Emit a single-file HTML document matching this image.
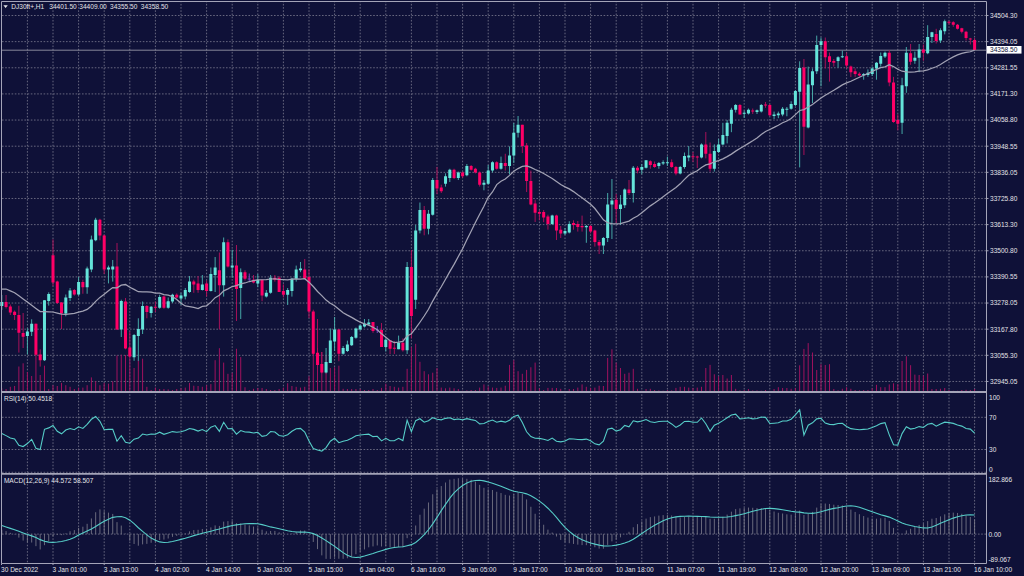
<!DOCTYPE html><html><head><meta charset="utf-8"><style>
html,body{margin:0;padding:0;background:#0f1138;width:1024px;height:576px;overflow:hidden}
svg{position:absolute;left:0;top:0}
text{font-family:"Liberation Sans",sans-serif;fill:#e4e4e8;font-size:7px}
</style></head><body>
<svg width="1024" height="576" viewBox="0 0 1024 576">
<rect x="0" y="0" width="1024" height="576" fill="#0f1138"/>
<path d="M27.40 1.5V563.5M53.00 1.5V563.5M78.60 1.5V563.5M104.20 1.5V563.5M129.80 1.5V563.5M155.40 1.5V563.5M181.00 1.5V563.5M206.60 1.5V563.5M232.20 1.5V563.5M257.80 1.5V563.5M283.40 1.5V563.5M309.00 1.5V563.5M334.60 1.5V563.5M360.20 1.5V563.5M385.80 1.5V563.5M411.40 1.5V563.5M437.00 1.5V563.5M462.60 1.5V563.5M488.20 1.5V563.5M513.80 1.5V563.5M539.40 1.5V563.5M565.00 1.5V563.5M590.60 1.5V563.5M616.20 1.5V563.5M641.80 1.5V563.5M667.40 1.5V563.5M693.00 1.5V563.5M718.60 1.5V563.5M744.20 1.5V563.5M769.80 1.5V563.5M795.40 1.5V563.5M821.00 1.5V563.5M846.60 1.5V563.5M872.20 1.5V563.5M897.80 1.5V563.5M923.40 1.5V563.5M949.00 1.5V563.5M974.60 1.5V563.5" stroke="#66667e" stroke-width="1" stroke-dasharray="1.6 1.6" stroke-dashoffset="0.8" fill="none"/>
<path d="M1.5 15.50H986.50M1.5 41.64H986.50M1.5 67.78H986.50M1.5 93.92H986.50M1.5 120.06H986.50M1.5 146.20H986.50M1.5 172.34H986.50M1.5 198.48H986.50M1.5 224.62H986.50M1.5 250.76H986.50M1.5 276.90H986.50M1.5 303.04H986.50M1.5 329.18H986.50M1.5 355.32H986.50M1.5 381.46H986.50M1.5 417.30H986.50M1.5 449.50H986.50M1.5 534.10H986.50M1.5 472.30H986.50" stroke="#66667e" stroke-width="1" stroke-dasharray="1.6 1.6" stroke-dashoffset="2.7" fill="none"/>
<path d="M1.80 391.5V388.30M6.07 391.5V389.00M10.33 391.5V386.80M14.60 391.5V386.00M18.87 391.5V366.50M23.13 391.5V363.30M27.40 391.5V372.00M31.67 391.5V376.00M35.93 391.5V356.00M40.20 391.5V375.00M44.47 391.5V365.70M48.73 391.5V389.00M53.00 391.5V385.20M57.27 391.5V386.00M61.53 391.5V382.90M65.80 391.5V385.20M70.07 391.5V386.80M74.33 391.5V389.00M78.60 391.5V387.60M82.87 391.5V387.60M87.13 391.5V385.20M91.40 391.5V377.40M95.67 391.5V381.30M99.93 391.5V385.20M104.20 391.5V382.90M108.47 391.5V383.70M112.73 391.5V381.30M117.00 391.5V355.50M121.27 391.5V354.75M125.53 391.5V355.00M129.80 391.5V356.00M134.07 391.5V368.00M138.33 391.5V360.20M142.60 391.5V358.70M146.87 391.5V386.80M151.13 391.5V390.00M155.40 391.5V387.60M159.67 391.5V389.00M163.93 391.5V389.00M168.20 391.5V389.40M172.47 391.5V390.00M176.73 391.5V389.00M181.00 391.5V388.30M185.27 391.5V387.60M189.53 391.5V382.90M193.80 391.5V385.70M198.07 391.5V386.00M202.33 391.5V386.80M206.60 391.5V385.20M210.87 391.5V384.10M215.13 391.5V360.20M219.40 391.5V348.20M223.67 391.5V362.60M227.93 391.5V373.80M232.20 391.5V372.70M236.47 391.5V348.80M240.73 391.5V357.10M245.00 391.5V387.25M249.27 391.5V390.00M253.53 391.5V388.80M257.80 391.5V388.00M262.07 391.5V388.00M266.33 391.5V389.00M270.60 391.5V390.00M274.87 391.5V390.00M279.13 391.5V389.00M283.40 391.5V387.60M287.67 391.5V383.20M291.93 391.5V386.00M296.20 391.5V386.80M300.47 391.5V387.60M304.73 391.5V386.80M309.00 391.5V376.30M313.27 391.5V345.00M317.53 391.5V348.00M321.80 391.5V352.00M326.07 391.5V355.00M330.33 391.5V368.00M334.60 391.5V367.25M338.87 391.5V365.70M343.13 391.5V388.80M347.40 391.5V389.00M351.67 391.5V389.00M355.93 391.5V389.00M360.20 391.5V389.00M364.47 391.5V390.00M368.73 391.5V390.00M373.00 391.5V389.00M377.27 391.5V390.00M381.53 391.5V387.90M385.80 391.5V383.70M390.07 391.5V386.00M394.33 391.5V386.80M398.60 391.5V387.60M402.87 391.5V386.80M407.13 391.5V368.80M411.40 391.5V347.00M415.67 391.5V343.80M419.93 391.5V361.80M424.20 391.5V371.20M428.47 391.5V374.30M432.73 391.5V372.70M437.00 391.5V368.00M441.27 391.5V387.60M445.53 391.5V388.30M449.80 391.5V387.60M454.07 391.5V388.30M458.33 391.5V389.00M462.60 391.5V390.70M466.87 391.5V390.40M471.13 391.5V390.00M475.40 391.5V390.00M479.67 391.5V387.60M483.93 391.5V384.40M488.20 391.5V386.30M492.47 391.5V387.60M496.73 391.5V387.90M501.00 391.5V387.60M505.27 391.5V385.70M509.53 391.5V364.90M513.80 391.5V360.20M518.07 391.5V371.20M522.33 391.5V373.80M526.60 391.5V369.90M530.87 391.5V367.25M535.13 391.5V362.60M539.40 391.5V388.30M543.67 391.5V390.00M547.93 391.5V387.90M552.20 391.5V387.90M556.47 391.5V388.00M560.73 391.5V388.80M565.00 391.5V390.70M569.27 391.5V389.00M573.53 391.5V389.00M577.80 391.5V387.60M582.07 391.5V384.40M586.33 391.5V386.80M590.60 391.5V387.90M594.87 391.5V387.60M599.13 391.5V385.70M603.40 391.5V386.00M607.67 391.5V357.90M611.93 391.5V349.30M616.20 391.5V362.60M620.47 391.5V368.00M624.73 391.5V373.80M629.00 391.5V372.70M633.27 391.5V368.80M637.53 391.5V388.80M641.80 391.5V390.70M646.07 391.5V389.00M650.33 391.5V388.80M654.60 391.5V390.00M658.87 391.5V390.40M663.13 391.5V390.70M667.40 391.5V390.00M671.67 391.5V390.40M675.93 391.5V387.90M680.20 391.5V386.80M684.47 391.5V386.80M688.73 391.5V387.60M693.00 391.5V388.00M697.27 391.5V387.60M701.53 391.5V386.80M705.80 391.5V368.00M710.07 391.5V364.90M714.33 391.5V374.30M718.60 391.5V376.30M722.87 391.5V375.00M727.13 391.5V378.50M731.40 391.5V375.00M735.67 391.5V388.80M739.93 391.5V390.40M744.20 391.5V390.00M748.47 391.5V389.00M752.73 391.5V390.40M757.00 391.5V390.40M761.27 391.5V390.70M765.53 391.5V390.00M769.80 391.5V390.70M774.07 391.5V389.00M778.33 391.5V387.20M782.60 391.5V388.00M786.87 391.5V388.00M791.13 391.5V388.75M795.40 391.5V388.00M799.67 391.5V365.30M803.93 391.5V348.90M808.20 391.5V343.10M812.47 391.5V352.50M816.73 391.5V370.00M821.00 391.5V364.20M825.27 391.5V365.00M829.53 391.5V364.20M833.80 391.5V389.00M838.07 391.5V390.30M842.33 391.5V388.75M846.60 391.5V387.20M850.87 391.5V388.75M855.13 391.5V390.00M859.40 391.5V390.30M863.67 391.5V390.00M867.93 391.5V390.00M872.20 391.5V388.40M876.47 391.5V384.80M880.73 391.5V387.20M885.00 391.5V387.20M889.27 391.5V384.40M893.53 391.5V383.30M897.80 391.5V384.00M902.07 391.5V361.00M906.33 391.5V356.25M910.60 391.5V365.20M914.87 391.5V374.60M919.13 391.5V375.00M923.40 391.5V375.60M927.67 391.5V373.50M931.93 391.5V389.00M936.20 391.5V389.00M940.47 391.5V388.75M944.73 391.5V388.00M949.00 391.5V390.00M953.27 391.5V390.80M957.53 391.5V390.80M961.80 391.5V390.00M966.07 391.5V389.80M970.33 391.5V390.00M974.60 391.5V389.00" stroke="#a0125e" stroke-width="1" fill="none"/>
<path d="M1.5 50.2H986.5" stroke="#9c9cac" stroke-width="0.85"/>
<path d="M1.80 295.00V310.00M27.40 328.30V354.50M31.67 319.30V336.00M44.47 300.00V361.00M48.73 292.30V305.60M65.80 294.50V316.30M70.07 288.00V301.00M78.60 277.00V295.60M87.13 266.60V293.75M91.40 235.60V272.20M95.67 217.80V241.25M108.47 265.60V283.40M112.73 260.00V281.60M121.27 299.70V337.00M134.07 334.00V360.80M138.33 318.30V360.80M142.60 301.50V334.00M151.13 306.00V317.50M159.67 294.70V308.75M168.20 297.50V308.75M172.47 293.75V303.00M181.00 292.80V305.00M185.27 288.00V299.40M189.53 276.00V292.80M202.33 275.00V290.50M210.87 267.50V291.50M215.13 257.00V292.00M223.67 237.50V296.60M232.20 249.70V277.80M240.73 268.40V319.00M257.80 274.00V287.20M266.33 290.00V297.50M270.60 275.00V293.75M287.67 288.00V305.00M291.93 277.80V296.60M296.20 265.60V281.60M300.47 262.00V272.20M326.07 348.00V373.40M330.33 328.40V363.00M334.60 317.00V351.00M343.13 346.00V354.70M347.40 340.60V352.00M351.67 336.00V346.00M355.93 327.50V338.75M360.20 324.70V330.50M364.47 319.00V327.50M368.73 319.00V325.60M385.80 338.40V351.60M398.60 335.60V349.20M407.13 262.00V354.00M415.67 225.00V309.00M419.93 202.50V233.40M428.47 210.00V234.40M432.73 178.00V215.60M445.53 173.40V186.60M449.80 168.75V182.00M458.33 171.60V180.00M466.87 164.00V176.25M483.93 180.00V190.30M488.20 165.00V184.70M492.47 161.25V172.50M501.00 156.60V169.70M509.53 146.40V174.40M513.80 123.00V163.00M518.07 116.00V137.50M552.20 214.70V225.00M565.00 228.00V235.00M569.27 221.25V233.40M586.33 225.00V242.80M603.40 237.00V254.00M607.67 193.00V242.00M611.93 179.00V239.00M620.47 195.00V225.00M624.73 188.40V208.00M633.27 166.00V202.50M641.80 164.00V174.40M646.07 160.30V168.50M658.87 162.00V168.75M663.13 160.30V165.00M667.40 156.60V166.00M680.20 166.00V174.40M684.47 152.50V168.75M688.73 146.00V161.25M701.53 143.40V158.40M714.33 144.40V171.60M718.60 138.75V153.00M722.87 122.80V145.30M727.13 120.00V143.40M731.40 107.80V132.20M735.67 104.00V112.50M744.20 110.60V118.00M748.47 108.50V114.50M757.00 109.50V114.00M761.27 104.00V112.50M774.07 111.60V119.00M778.33 111.60V118.20M782.60 107.00V116.25M786.87 107.00V116.25M791.13 101.25V109.70M795.40 90.00V106.00M799.67 61.30V167.40M808.20 66.60V128.40M812.47 68.40V103.00M816.73 35.60V74.00M821.00 37.50V86.25M838.07 56.25V67.50M842.33 50.60V58.00M863.67 73.00V79.70M867.93 69.40V76.90M872.20 66.60V76.00M876.47 62.00V79.70M880.73 52.50V66.60M885.00 51.60V58.00M902.07 77.80V134.00M906.33 47.00V92.80M914.87 51.60V63.80M919.13 44.00V72.20M927.67 25.20V54.20M931.93 31.80V43.00M940.47 28.30V43.00M944.73 19.60V34.40" stroke="#4cb8b2" stroke-width="0.9" fill="none"/>
<path d="M6.07 295.00V308.50M10.33 304.50V315.00M14.60 310.50V320.00M18.87 305.70V352.60M23.13 313.00V348.00M35.93 323.60V356.00M40.20 349.40V366.60M53.00 239.40V286.00M57.27 280.60V304.00M61.53 302.00V329.00M74.33 289.00V295.60M82.87 279.70V293.75M99.93 218.75V240.30M104.20 234.70V274.00M117.00 243.00V330.00M125.53 298.00V349.30M129.80 331.60V357.30M146.87 305.00V318.30M155.40 301.50V312.00M163.93 295.60V308.75M176.73 293.40V298.40M193.80 279.70V292.80M198.07 276.00V292.80M206.60 280.60V296.60M219.40 252.50V329.40M227.93 239.40V267.50M236.47 245.00V321.00M245.00 270.30V280.60M253.53 275.00V283.40M262.07 279.70V301.25M274.87 275.00V281.60M279.13 276.00V291.90M283.40 284.40V297.50M304.73 259.00V278.75M309.00 269.40V318.00M313.27 309.70V354.70M317.53 319.00V365.00M321.80 352.00V373.40M338.87 329.40V361.25M373.00 322.00V332.80M381.53 323.00V347.00M390.07 340.30V354.00M394.33 341.00V354.00M402.87 338.40V351.60M411.40 250.00V338.40M424.20 206.00V235.30M437.00 166.90V194.00M441.27 184.70V193.00M454.07 168.75V179.00M462.60 171.60V178.00M471.13 165.00V170.60M475.40 167.80V173.40M479.67 171.60V186.60M496.73 161.25V169.70M505.27 153.75V170.60M522.33 124.80V153.00M526.60 143.00V192.00M530.87 170.60V205.30M535.13 199.70V222.00M539.40 210.00V220.30M543.67 210.00V222.20M547.93 214.70V229.70M556.47 214.70V240.00M560.73 226.00V238.00M573.53 220.30V229.70M577.80 221.00V231.60M582.07 215.60V231.60M590.60 225.00V233.40M594.87 229.70V246.60M599.13 240.00V254.00M616.20 194.00V223.00M629.00 180.00V195.00M637.53 166.00V173.40M650.33 160.30V168.75M654.60 161.50V167.80M671.67 159.40V167.80M675.93 166.00V175.30M693.00 152.00V162.00M697.27 155.60V168.00M705.80 132.00V158.40M710.07 142.50V171.60M739.93 104.00V114.40M752.73 108.50V114.00M765.53 102.00V107.80M769.80 104.00V116.25M803.93 59.00V155.00M825.27 37.50V68.40M829.53 52.50V81.60M833.80 59.00V66.60M846.60 52.50V68.40M850.87 65.60V77.00M855.13 68.40V76.90M859.40 72.20V76.50M889.27 50.00V86.25M893.53 76.90V122.80M897.80 114.40V130.30M910.60 44.00V64.80M923.40 44.50V60.80M936.20 28.80V43.50M949.00 20.70V24.70M953.27 21.20V26.80M957.53 24.00V29.50M961.80 27.80V33.40M966.07 30.80V40.50M970.33 37.90V44.50M974.60 37.90V50.10" stroke="#b8115c" stroke-width="0.9" fill="none"/>
<path d="M0.30 302.00h3v4.00h-3zM25.90 331.60h3v4.40h-3zM30.17 323.80h3v8.00h-3zM42.97 300.30h3v60.00h-3zM47.23 294.00h3v7.00h-3zM64.30 297.50h3v15.90h-3zM68.57 290.50h3v7.50h-3zM77.10 282.00h3v12.50h-3zM85.63 268.40h3v18.80h-3zM89.90 239.40h3v30.00h-3zM94.17 219.70h3v20.60h-3zM106.97 267.50h3v1.90h-3zM111.23 266.60h3v2.80h-3zM119.77 301.00h3v28.60h-3zM132.57 335.00h3v22.30h-3zM136.83 329.00h3v7.00h-3zM141.10 306.00h3v23.60h-3zM149.63 306.80h3v6.20h-3zM158.17 297.00h3v10.70h-3zM166.70 301.25h3v6.55h-3zM170.97 294.70h3v6.90h-3zM179.50 295.60h3v2.80h-3zM183.77 290.00h3v6.60h-3zM188.03 281.60h3v10.40h-3zM200.83 284.40h3v5.60h-3zM209.37 274.00h3v17.00h-3zM213.63 267.50h3v7.50h-3zM222.17 242.20h3v43.10h-3zM230.70 265.60h3v1.90h-3zM239.23 272.20h3v15.80h-3zM256.30 279.70h3v3.70h-3zM264.83 292.80h3v3.80h-3zM269.10 277.80h3v15.00h-3zM286.17 290.00h3v4.70h-3zM290.43 278.75h3v12.25h-3zM294.70 269.40h3v9.35h-3zM298.97 268.40h3v1.90h-3zM324.57 362.00h3v10.50h-3zM328.83 340.60h3v22.40h-3zM333.10 329.40h3v12.20h-3zM341.63 348.00h3v5.75h-3zM345.90 344.40h3v6.60h-3zM350.17 337.00h3v8.30h-3zM354.43 328.40h3v9.40h-3zM358.70 325.60h3v3.80h-3zM362.97 323.75h3v2.85h-3zM367.23 322.50h3v2.00h-3zM384.30 339.80h3v7.10h-3zM397.10 342.70h3v6.50h-3zM405.63 266.90h3v83.30h-3zM414.17 230.60h3v69.10h-3zM418.43 210.00h3v20.60h-3zM426.97 213.75h3v15.00h-3zM431.23 180.00h3v34.70h-3zM444.03 176.25h3v7.50h-3zM448.30 169.70h3v8.30h-3zM456.83 172.50h3v5.50h-3zM465.37 166.00h3v9.30h-3zM482.43 182.80h3v1.90h-3zM486.70 170.60h3v13.15h-3zM490.97 162.20h3v8.40h-3zM499.50 163.00h3v5.75h-3zM508.03 155.60h3v10.40h-3zM512.30 132.80h3v22.80h-3zM516.57 124.80h3v8.00h-3zM550.70 215.60h3v8.40h-3zM563.50 231.00h3v2.40h-3zM567.77 224.00h3v8.50h-3zM584.83 226.00h3v1.25h-3zM601.90 238.00h3v7.60h-3zM606.17 204.40h3v33.60h-3zM610.43 200.60h3v3.80h-3zM618.97 204.40h3v4.60h-3zM623.23 189.40h3v15.90h-3zM631.77 167.80h3v25.20h-3zM640.30 166.90h3v2.80h-3zM644.57 160.30h3v7.50h-3zM657.37 163.00h3v3.00h-3zM661.63 162.20h3v1.30h-3zM665.90 162.20h3v1.00h-3zM678.70 166.90h3v6.50h-3zM682.97 156.00h3v10.90h-3zM687.23 155.60h3v1.90h-3zM700.03 144.40h3v13.10h-3zM712.83 151.00h3v17.75h-3zM717.10 144.40h3v7.60h-3zM721.37 135.00h3v9.40h-3zM725.63 122.80h3v13.20h-3zM729.90 109.70h3v14.05h-3zM734.17 105.00h3v4.70h-3zM742.70 112.80h3v1.00h-3zM746.97 109.70h3v3.70h-3zM755.50 110.25h3v1.75h-3zM759.77 105.00h3v6.60h-3zM772.57 114.40h3v1.60h-3zM776.83 113.40h3v1.90h-3zM781.10 108.75h3v5.65h-3zM785.37 108.75h3v1.00h-3zM789.63 104.00h3v4.75h-3zM793.90 91.00h3v14.00h-3zM798.17 68.00h3v23.80h-3zM806.70 84.40h3v43.10h-3zM810.97 71.25h3v14.05h-3zM815.23 45.00h3v26.25h-3zM819.50 41.25h3v3.75h-3zM836.57 57.20h3v3.80h-3zM840.83 56.25h3v1.00h-3zM862.17 74.00h3v1.00h-3zM866.43 72.75h3v2.25h-3zM870.70 68.40h3v5.60h-3zM874.97 62.80h3v5.60h-3zM879.23 56.00h3v7.80h-3zM883.50 52.70h3v3.80h-3zM900.57 85.30h3v37.50h-3zM904.83 52.70h3v33.55h-3zM913.37 57.70h3v3.10h-3zM917.63 49.60h3v8.10h-3zM926.17 36.90h3v16.30h-3zM930.43 32.30h3v4.60h-3zM938.97 30.30h3v10.20h-3zM943.23 21.20h3v10.10h-3z" fill="#64e4da"/>
<path d="M4.57 302.00h3v5.00h-3zM8.83 306.50h3v6.00h-3zM13.10 311.70h3v3.30h-3zM17.37 315.00h3v17.80h-3zM21.63 333.00h3v3.80h-3zM34.43 323.80h3v31.00h-3zM38.70 354.50h3v5.80h-3zM51.50 255.30h3v27.20h-3zM55.77 281.60h3v21.40h-3zM60.03 302.50h3v10.90h-3zM72.83 290.00h3v4.50h-3zM81.37 282.00h3v5.20h-3zM98.43 219.70h3v15.90h-3zM102.70 235.60h3v33.80h-3zM115.50 266.60h3v62.80h-3zM124.03 301.50h3v46.90h-3zM128.30 347.60h3v8.80h-3zM145.37 306.00h3v6.00h-3zM153.90 306.80h3v1.00h-3zM162.43 296.60h3v11.20h-3zM175.23 294.70h3v2.80h-3zM192.30 281.60h3v2.80h-3zM196.57 283.40h3v6.60h-3zM205.10 283.40h3v7.60h-3zM217.90 270.30h3v15.00h-3zM226.43 242.20h3v24.40h-3zM234.97 265.60h3v23.40h-3zM243.50 272.20h3v6.55h-3zM252.03 279.70h3v2.80h-3zM260.57 279.70h3v15.90h-3zM273.37 277.80h3v1.90h-3zM277.63 277.80h3v14.10h-3zM281.90 291.00h3v3.70h-3zM303.23 269.40h3v9.35h-3zM307.50 276.90h3v34.70h-3zM311.77 311.60h3v42.15h-3zM316.03 352.80h3v12.20h-3zM320.30 364.00h3v8.50h-3zM337.37 329.40h3v24.35h-3zM371.50 322.00h3v9.00h-3zM380.03 330.00h3v16.90h-3zM388.57 340.30h3v8.45h-3zM392.83 347.80h3v1.00h-3zM401.37 342.70h3v7.50h-3zM409.90 266.90h3v49.10h-3zM422.70 210.00h3v18.75h-3zM435.50 180.00h3v8.40h-3zM439.77 187.50h3v3.75h-3zM452.57 169.70h3v8.30h-3zM461.10 172.50h3v3.75h-3zM469.63 166.00h3v3.70h-3zM473.90 168.75h3v3.75h-3zM478.17 172.50h3v12.20h-3zM495.23 162.20h3v6.55h-3zM503.77 163.00h3v3.00h-3zM520.83 124.80h3v21.20h-3zM525.10 145.50h3v35.50h-3zM529.37 181.00h3v23.40h-3zM533.63 203.40h3v9.40h-3zM537.90 211.90h3v1.85h-3zM542.17 211.90h3v5.60h-3zM546.43 216.60h3v7.40h-3zM554.97 215.60h3v15.00h-3zM559.23 229.70h3v3.70h-3zM572.03 223.00h3v2.00h-3zM576.30 224.00h3v2.90h-3zM580.57 226.00h3v1.25h-3zM589.10 226.00h3v5.60h-3zM593.37 230.60h3v11.30h-3zM597.63 241.90h3v3.70h-3zM614.70 199.70h3v9.30h-3zM627.50 189.40h3v3.60h-3zM636.03 167.80h3v2.80h-3zM648.83 161.25h3v3.75h-3zM653.10 164.00h3v2.90h-3zM670.17 162.20h3v4.70h-3zM674.43 166.90h3v6.50h-3zM691.50 156.20h3v1.00h-3zM695.77 156.40h3v1.00h-3zM704.30 144.40h3v9.35h-3zM708.57 153.75h3v15.00h-3zM738.43 105.00h3v9.40h-3zM751.23 110.60h3v1.00h-3zM764.03 104.50h3v1.00h-3zM768.30 105.00h3v10.30h-3zM802.43 67.50h3v59.25h-3zM823.77 41.25h3v15.95h-3zM828.03 56.25h3v5.75h-3zM832.30 61.00h3v1.80h-3zM845.10 56.25h3v9.35h-3zM849.37 66.60h3v5.60h-3zM853.63 71.25h3v2.75h-3zM857.90 73.70h3v1.90h-3zM887.77 52.70h3v29.80h-3zM892.03 82.50h3v39.40h-3zM896.30 120.00h3v3.75h-3zM909.10 53.20h3v8.60h-3zM921.90 49.60h3v3.10h-3zM934.70 33.90h3v7.10h-3zM947.50 21.70h3v1.00h-3zM951.77 22.20h3v2.50h-3zM956.03 24.70h3v4.10h-3zM960.30 28.30h3v3.50h-3zM964.57 31.80h3v6.10h-3zM968.83 38.40h3v1.10h-3zM973.10 40.00h3v10.10h-3z" fill="#ff0066"/>
<path d="M249.27 273.50V281.00M247.77 279.00H250.77M377.27 326.00V333.00M375.77 330.00H378.77" stroke="#7a3fc0" stroke-width="1" fill="none"/>
<polyline points="1.80,289.00 6.07,289.00 10.33,290.85 14.60,292.70 18.87,295.85 23.13,299.00 27.40,302.10 31.67,305.20 35.93,308.40 40.20,311.60 44.47,311.73 48.73,311.87 53.00,312.00 57.27,313.05 61.53,314.10 65.80,314.40 70.07,313.85 74.33,313.30 78.60,312.19 82.87,311.07 87.13,309.40 91.40,306.01 95.67,301.38 99.93,297.41 104.20,294.24 108.47,290.77 112.73,287.52 117.00,287.80 121.27,285.11 125.53,284.51 129.80,287.32 134.07,289.37 138.33,291.70 142.60,291.84 146.87,291.78 151.13,292.24 155.40,293.10 159.67,293.23 163.93,294.52 168.20,295.22 172.47,296.53 176.73,299.44 181.00,303.23 185.27,305.95 189.53,306.56 193.80,307.41 198.07,308.58 202.33,306.33 206.60,305.83 210.87,302.11 215.13,297.66 219.40,295.18 223.67,290.84 227.93,288.87 232.20,286.55 236.47,285.66 240.73,283.88 245.00,282.97 249.27,281.53 253.53,280.59 257.80,279.84 262.07,279.75 266.33,279.61 270.60,279.00 274.87,278.90 279.13,279.28 283.40,279.51 287.67,279.79 291.93,279.18 296.20,278.95 300.47,279.00 304.73,278.67 309.00,282.14 313.27,286.50 317.53,291.47 321.80,295.64 326.07,300.13 330.33,303.22 334.60,305.74 338.87,309.30 343.13,312.72 347.40,315.16 351.67,317.37 355.93,319.90 360.20,322.19 364.47,323.79 368.73,325.18 373.00,327.23 377.27,329.79 381.53,333.66 385.80,337.24 390.07,340.73 394.33,342.59 398.60,342.04 402.87,341.30 407.13,336.02 411.40,333.72 415.67,328.22 419.93,322.25 424.20,316.00 428.47,309.29 432.73,301.07 437.00,293.64 441.27,286.78 445.53,279.31 449.80,271.61 454.07,264.38 458.33,256.46 462.60,248.77 466.87,239.73 471.13,231.22 475.40,222.41 479.67,214.21 483.93,206.21 488.20,197.23 492.47,192.00 496.73,184.63 501.00,181.26 505.27,179.06 509.53,175.40 513.80,171.35 518.07,168.59 522.33,166.47 526.60,165.96 530.87,167.36 535.13,169.52 539.40,171.31 543.67,173.56 547.93,175.95 552.20,178.42 556.47,181.47 560.73,184.51 565.00,186.83 569.27,188.89 573.53,191.61 577.80,194.85 582.07,197.77 586.33,200.92 590.60,204.20 594.87,208.52 599.13,214.15 603.40,219.81 607.67,222.74 611.93,223.72 616.20,223.95 620.47,223.53 624.73,222.31 629.00,221.08 633.27,218.27 637.53,216.02 641.80,212.84 646.07,209.18 650.33,205.88 654.60,203.03 658.87,199.93 663.13,196.69 667.40,193.44 671.67,190.49 675.93,187.57 680.20,183.83 684.47,179.35 688.73,175.23 693.00,172.86 697.27,170.69 701.53,167.47 705.80,164.93 710.07,163.90 714.33,161.80 718.60,160.63 722.87,158.85 727.13,156.64 731.40,154.12 735.67,151.12 739.93,148.49 744.20,145.98 748.47,143.35 752.73,140.83 757.00,137.99 761.27,134.57 765.53,131.50 769.80,129.47 774.07,127.41 778.33,125.22 782.60,122.79 786.87,121.01 791.13,118.53 795.40,114.64 799.67,110.49 803.93,109.61 808.20,107.07 812.47,104.50 816.73,101.26 821.00,98.07 825.27,95.22 829.53,92.68 833.80,90.33 838.07,87.61 842.33,84.91 846.60,82.94 850.87,81.27 855.13,79.21 859.40,77.27 863.67,75.30 867.93,73.50 872.20,71.48 876.47,69.42 880.73,67.67 885.00,66.91 889.27,64.70 893.53,66.57 897.80,69.19 902.07,71.21 906.33,71.78 910.60,72.01 914.87,71.80 919.13,71.14 923.40,70.91 927.67,69.94 931.93,68.28 936.20,66.72 940.47,64.54 944.73,61.82 949.00,59.25 953.27,56.85 957.53,54.87 961.80,53.32 966.07,52.41 970.33,51.75 974.60,50.13" stroke="#a2a2b4" stroke-width="1.25" fill="none"/>
<polyline points="1.80,433.40 6.07,435.63 10.33,437.96 14.60,439.01 18.87,445.35 23.13,446.55 27.40,443.55 31.67,439.37 35.93,448.36 40.20,449.56 44.47,429.30 48.73,427.89 53.00,425.42 57.27,431.22 61.53,433.84 65.80,430.09 70.07,428.54 74.33,429.67 78.60,426.82 82.87,428.41 87.13,424.31 91.40,419.27 95.67,416.51 99.93,421.32 104.20,429.78 108.47,429.42 112.73,429.24 117.00,441.23 121.27,435.64 125.53,442.21 129.80,443.17 134.07,439.13 138.33,438.04 142.60,434.03 146.87,435.00 151.13,434.07 155.40,434.23 159.67,432.16 163.93,434.31 168.20,432.96 172.47,431.60 176.73,432.25 181.00,431.82 185.27,430.49 189.53,428.53 193.80,429.37 198.07,431.06 202.33,429.56 206.60,431.67 210.87,427.16 215.13,425.59 219.40,431.34 223.67,422.26 227.93,428.76 232.20,428.57 236.47,434.10 240.73,430.55 245.00,432.07 249.27,432.13 253.53,433.01 257.80,432.29 262.07,436.39 266.33,435.59 270.60,431.51 274.87,432.06 279.13,435.48 283.40,436.24 287.67,434.74 291.93,431.32 296.20,428.70 300.47,428.42 304.73,432.06 309.00,441.01 313.27,448.50 317.53,450.05 321.80,451.06 326.07,447.57 330.33,441.21 334.60,438.25 338.87,442.72 343.13,441.18 347.40,440.19 351.67,438.14 355.93,435.82 360.20,435.06 364.47,434.53 368.73,434.16 373.00,436.61 377.27,436.27 381.53,440.91 385.80,438.37 390.07,440.74 394.33,440.74 398.60,438.36 402.87,440.57 407.13,420.25 411.40,431.67 415.67,420.65 419.93,418.75 424.20,422.23 428.47,420.73 432.73,417.65 437.00,419.27 441.27,419.85 445.53,418.35 449.80,417.70 454.07,419.60 458.33,418.97 462.60,419.90 466.87,418.62 471.13,419.63 475.40,420.42 479.67,423.85 483.93,423.52 488.20,421.43 492.47,420.06 496.73,422.16 501.00,421.12 505.27,422.15 509.53,420.17 513.80,416.41 518.07,415.25 522.33,422.53 526.60,431.81 530.87,436.64 535.13,438.22 539.40,438.41 543.67,439.17 547.93,440.50 552.20,438.08 556.47,441.26 560.73,441.83 565.00,441.05 569.27,438.76 573.53,439.01 577.80,439.52 582.07,439.62 586.33,439.11 590.60,440.86 594.87,443.86 599.13,444.88 603.40,441.24 607.67,429.18 611.93,428.11 616.20,431.11 620.47,429.69 624.73,425.45 629.00,426.85 633.27,420.78 637.53,421.90 641.80,421.06 646.07,419.58 650.33,421.69 654.60,422.56 658.87,421.51 663.13,421.29 667.40,421.29 671.67,423.94 675.93,427.42 680.20,425.02 684.47,421.43 688.73,421.31 693.00,422.29 697.27,422.29 701.53,417.98 705.80,423.78 710.07,431.39 714.33,425.16 718.60,423.21 722.87,420.63 727.13,417.68 731.40,414.98 735.67,414.09 739.93,418.90 744.20,418.53 748.47,417.78 752.73,418.85 757.00,418.48 761.27,417.03 765.53,417.36 769.80,423.51 774.07,423.19 778.33,422.81 782.60,421.04 786.87,421.04 791.13,419.21 795.40,414.97 799.67,409.81 803.93,434.97 808.20,425.17 812.47,422.85 816.73,418.84 821.00,418.31 825.27,423.03 829.53,424.39 833.80,424.63 838.07,423.53 842.33,423.34 846.60,426.51 850.87,428.66 855.13,429.26 859.40,429.82 863.67,429.33 867.93,428.93 872.20,427.50 876.47,425.70 880.73,423.62 885.00,422.63 889.27,434.85 893.53,444.72 897.80,445.09 902.07,433.59 906.33,426.80 910.60,429.05 914.87,428.23 919.13,426.61 923.40,427.49 927.67,424.29 931.93,423.40 936.20,426.15 940.47,423.92 944.73,422.13 949.00,422.66 953.27,423.40 957.53,424.95 961.80,426.11 966.07,428.47 970.33,429.09 974.60,433.09" stroke="#56cdc8" stroke-width="1.1" fill="none"/>
<path d="M1.80 534.1V529.78M6.07 534.1V531.09M10.33 534.1V532.77M14.60 534.1V534.38M18.87 534.1V537.62M23.13 534.1V540.55M27.40 534.1V542.21M31.67 534.1V542.54M35.93 534.1V546.15M40.20 534.1V549.45M44.47 534.1V545.20M48.73 534.1V541.04M53.00 534.1V536.42M57.27 534.1V535.05M61.53 534.1V535.13M65.80 534.1V533.41M70.07 534.1V531.29M74.33 534.1V530.11M78.60 534.1V527.84M82.87 534.1V526.71M87.13 534.1V523.82M91.40 534.1V518.45M95.67 534.1V512.23M99.93 534.1V509.37M104.20 534.1V511.17M108.47 534.1V512.63M112.73 534.1V513.92M117.00 534.1V522.14M121.27 534.1V525.56M125.53 534.1V533.61M129.80 534.1V540.81M134.07 534.1V543.99M138.33 534.1V545.71M142.60 534.1V544.36M146.87 534.1V543.86M151.13 534.1V542.78M155.40 534.1V541.93M159.67 534.1V539.99M163.93 534.1V539.60M168.20 534.1V538.50M172.47 534.1V536.86M176.73 534.1V535.86M181.00 534.1V534.85M185.27 534.1V533.42M189.53 534.1V531.37M193.80 534.1V530.11M198.07 534.1V529.80M202.33 534.1V528.97M206.60 534.1V529.12M210.87 534.1V527.40M215.13 534.1V525.41M219.40 534.1V525.93M223.67 534.1V521.63M227.93 534.1V521.12M232.20 534.1V520.76M236.47 534.1V523.23M240.73 534.1V523.42M245.00 534.1V524.42M249.27 534.1V525.34M253.53 534.1V526.55M257.80 534.1V527.28M262.07 534.1V529.69M266.33 534.1V531.32M270.60 534.1V530.96M274.87 534.1V530.92M279.13 534.1V532.29M283.40 534.1V533.69M287.67 534.1V534.27M291.93 534.1V533.47M296.20 534.1V531.81M300.47 534.1V530.43M304.73 534.1V530.54M309.00 534.1V534.32M313.27 534.1V541.96M317.53 534.1V549.11M321.80 534.1V555.37M326.07 534.1V558.87M330.33 534.1V558.95M334.60 534.1V557.48M338.87 534.1V558.77M343.13 534.1V558.86M347.40 534.1V558.25M351.67 534.1V556.68M355.93 534.1V554.23M360.20 534.1V551.77M364.47 534.1V549.44M368.73 534.1V547.30M373.00 534.1V546.41M377.27 534.1V545.47M381.53 534.1V546.48M385.80 534.1V546.34M390.07 534.1V547.08M394.33 534.1V547.52M398.60 534.1V547.04M402.87 534.1V547.35M407.13 534.1V538.18M411.40 534.1V536.40M415.67 534.1V525.50M419.93 534.1V514.76M424.20 534.1V508.65M428.47 534.1V502.49M432.73 534.1V494.27M437.00 534.1V489.21M441.27 534.1V486.08M445.53 534.1V482.51M449.80 534.1V479.57M454.07 534.1V478.81M458.33 534.1V478.24M462.60 534.1V478.84M466.87 534.1V478.80M471.13 534.1V479.81M475.40 534.1V481.54M479.67 534.1V484.84M483.93 534.1V487.78M488.20 534.1V489.25M492.47 534.1V489.99M496.73 534.1V491.79M501.00 534.1V493.05M505.27 534.1V494.84M509.53 534.1V495.53M513.80 534.1V493.97M518.07 534.1V492.32M522.33 534.1V493.86M526.60 534.1V499.42M530.87 534.1V506.77M535.13 534.1V513.77M539.40 534.1V519.60M543.67 534.1V524.74M547.93 534.1V529.60M552.20 534.1V532.53M556.47 534.1V536.51M560.73 534.1V539.91M565.00 534.1V542.24M569.27 534.1V543.19M573.53 534.1V543.95M577.80 534.1V544.64M582.07 534.1V545.10M586.33 534.1V545.20M590.60 534.1V545.77M594.87 534.1V547.23M599.13 534.1V548.63M603.40 534.1V548.72M607.67 534.1V544.89M611.93 534.1V541.35M616.20 534.1V539.42M620.47 534.1V537.34M624.73 534.1V534.00M629.00 534.1V531.79M633.27 534.1V527.28M637.53 534.1V524.14M641.80 534.1V521.38M646.07 534.1V518.63M650.33 534.1V517.17M654.60 534.1V516.43M658.87 534.1V515.62M663.13 534.1V515.11M667.40 534.1V514.93M671.67 534.1V515.52M675.93 534.1V516.92M680.20 534.1V517.49M684.47 534.1V516.92M688.73 534.1V516.62M693.00 534.1V516.76M697.27 534.1V517.07M701.53 534.1V516.08M705.80 534.1V516.56M710.07 534.1V518.79M714.33 534.1V518.75M718.60 534.1V518.15M722.87 534.1V516.82M727.13 534.1V514.62M731.40 534.1V511.66M735.67 534.1V509.08M739.93 534.1V508.38M744.20 534.1V507.96M748.47 534.1V507.57M752.73 534.1V507.79M757.00 534.1V508.10M761.27 534.1V508.06M765.53 534.1V508.39M769.80 534.1V510.02M774.07 534.1V511.48M778.33 534.1V512.76M782.60 534.1V513.50M786.87 534.1V514.31M791.13 534.1V514.64M795.40 534.1V513.68M799.67 534.1V510.60M803.93 534.1V514.98M808.20 534.1V513.93M812.47 534.1V511.87M816.73 534.1V507.60M821.00 534.1V504.13M825.27 534.1V503.53M829.53 534.1V503.94M833.80 534.1V504.70M838.07 534.1V505.00M842.33 534.1V505.47M846.60 534.1V507.20M850.87 534.1V509.59M855.13 534.1V511.95M859.40 534.1V514.22M863.67 534.1V516.06M867.93 534.1V517.56M872.20 534.1V518.44M876.47 534.1V518.69M880.73 534.1V518.30M885.00 534.1V517.81M889.27 534.1V520.92M893.53 534.1V527.89M897.80 534.1V533.63M902.07 534.1V533.86M906.33 534.1V530.41M910.60 534.1V528.77M914.87 534.1V527.09M919.13 534.1V524.95M923.40 534.1V523.72M927.67 534.1V521.12M931.93 534.1V518.72M936.20 534.1V517.98M940.47 534.1V516.40M944.73 534.1V514.35M949.00 534.1V513.13M953.27 534.1V512.64M957.53 534.1V512.96M961.80 534.1V513.78M966.07 534.1V515.33M970.33 534.1V516.94M974.60 534.1V519.58" stroke="#80808e" stroke-width="0.8" fill="none"/>
<polyline points="1.80,525.44 6.07,526.93 10.33,528.37 14.60,529.76 18.87,531.29 23.13,532.91 27.40,534.50 31.67,535.89 35.93,537.45 40.20,539.64 44.47,541.21 48.73,542.13 53.00,542.35 57.27,542.07 61.53,541.47 65.80,540.49 70.07,539.24 74.33,537.46 78.60,535.05 82.87,533.00 87.13,531.09 91.40,529.09 95.67,526.55 99.93,523.69 104.20,521.22 108.47,519.15 112.73,517.35 117.00,516.72 121.27,516.59 125.53,517.68 129.80,520.16 134.07,523.69 138.33,527.73 142.60,531.42 146.87,534.89 151.13,538.09 155.40,540.29 159.67,541.89 163.93,542.56 168.20,542.30 172.47,541.51 176.73,540.42 181.00,539.36 185.27,538.20 189.53,536.93 193.80,535.62 198.07,534.49 202.33,533.30 206.60,532.26 210.87,531.21 215.13,530.05 219.40,529.06 223.67,527.75 227.93,526.61 232.20,525.57 236.47,524.84 240.73,524.23 245.00,523.70 249.27,523.48 253.53,523.60 257.80,523.75 262.07,524.65 266.33,525.78 270.60,526.91 274.87,527.77 279.13,528.75 283.40,529.78 287.67,530.77 291.93,531.54 296.20,532.05 300.47,532.13 304.73,532.04 309.00,532.42 313.27,533.64 317.53,535.51 321.80,537.92 326.07,540.65 330.33,543.48 334.60,546.34 338.87,549.48 343.13,552.63 347.40,555.29 351.67,556.93 355.93,557.50 360.20,557.10 364.47,556.05 368.73,554.75 373.00,553.52 377.27,552.05 381.53,550.67 385.80,549.35 390.07,548.28 394.33,547.53 398.60,547.01 402.87,546.78 407.13,545.76 411.40,544.65 415.67,542.43 419.93,538.91 424.20,534.72 428.47,529.76 432.73,523.85 437.00,517.42 441.27,510.61 445.53,504.43 449.80,498.11 454.07,492.93 458.33,488.87 462.60,485.56 466.87,482.93 471.13,481.32 475.40,480.47 479.67,480.33 483.93,480.91 488.20,481.99 492.47,483.23 496.73,484.74 501.00,486.32 505.27,488.10 509.53,489.84 513.80,491.23 518.07,492.06 522.33,492.73 526.60,493.86 530.87,495.73 535.13,498.17 539.40,501.12 543.67,504.44 547.93,508.23 552.20,512.51 556.47,517.42 560.73,522.54 565.00,527.30 569.27,531.34 573.53,534.70 577.80,537.48 582.07,539.74 586.33,541.47 590.60,542.94 594.87,544.13 599.13,545.10 603.40,545.83 607.67,546.01 611.93,545.72 616.20,545.14 620.47,544.28 624.73,543.04 629.00,541.49 633.27,539.27 637.53,536.55 641.80,533.51 646.07,530.59 650.33,527.90 654.60,525.35 658.87,522.94 663.13,520.84 667.40,518.97 671.67,517.66 675.93,516.86 680.20,516.42 684.47,516.23 688.73,516.17 693.00,516.21 697.27,516.37 701.53,516.48 705.80,516.66 710.07,517.02 714.33,517.23 718.60,517.30 722.87,517.29 727.13,517.07 731.40,516.50 735.67,515.61 739.93,514.76 744.20,513.80 748.47,512.56 752.73,511.34 757.00,510.22 761.27,509.25 765.53,508.55 769.80,508.37 774.07,508.64 778.33,509.12 782.60,509.74 786.87,510.49 791.13,511.25 795.40,511.87 799.67,512.15 803.93,512.88 808.20,513.32 812.47,513.36 816.73,512.79 821.00,511.75 825.27,510.55 829.53,509.36 833.80,508.37 838.07,507.74 842.33,506.69 846.60,505.94 850.87,505.68 855.13,506.17 859.40,507.29 863.67,508.68 867.93,510.19 872.20,511.72 876.47,513.24 880.73,514.67 885.00,515.85 889.27,517.10 893.53,518.88 897.80,521.03 902.07,523.01 906.33,524.44 910.60,525.59 914.87,526.52 919.13,527.26 923.40,527.92 927.67,527.94 931.93,526.92 936.20,525.18 940.47,523.24 944.73,521.45 949.00,519.72 953.27,518.11 957.53,516.78 961.80,515.67 966.07,515.03 970.33,514.83 974.60,515.01" stroke="#56cdc8" stroke-width="1.1" fill="none"/>
<path d="M1.5 1.5H986.5V563.5H1.5Z" stroke="#a4a4b8" stroke-width="1" fill="none"/>
<path d="M1.5 392H986.5 M1.5 473.9H986.5" stroke="#a4a4b8" stroke-width="1.8" fill="none"/>
<path d="M3.4 5.3h4.4l-2.2 2.6z" fill="#e4e4e8"/>
<text transform="matrix(0.94,0,0,1,11.20,9.20)">DJ30ft+,H1</text><text transform="matrix(0.94,0,0,1,49.30,9.20)">34401.50</text><text transform="matrix(0.94,0,0,1,79.30,9.20)">34409.00</text><text transform="matrix(0.94,0,0,1,110.00,9.20)">34355.50</text><text transform="matrix(0.94,0,0,1,140.80,9.20)">34358.50</text>
<text transform="matrix(0.94,0,0,1,990.00,17.90)">34504.30</text>
<path d="M986.5 15.50H988.5" stroke="#a4a4b8" stroke-width="1"/>
<text transform="matrix(0.94,0,0,1,990.00,44.04)">34394.05</text>
<path d="M986.5 41.64H988.5" stroke="#a4a4b8" stroke-width="1"/>
<text transform="matrix(0.94,0,0,1,990.00,70.18)">34281.55</text>
<path d="M986.5 67.78H988.5" stroke="#a4a4b8" stroke-width="1"/>
<text transform="matrix(0.94,0,0,1,990.00,96.32)">34171.30</text>
<path d="M986.5 93.92H988.5" stroke="#a4a4b8" stroke-width="1"/>
<text transform="matrix(0.94,0,0,1,990.00,122.46)">34058.80</text>
<path d="M986.5 120.06H988.5" stroke="#a4a4b8" stroke-width="1"/>
<text transform="matrix(0.94,0,0,1,990.00,148.60)">33948.55</text>
<path d="M986.5 146.20H988.5" stroke="#a4a4b8" stroke-width="1"/>
<text transform="matrix(0.94,0,0,1,990.00,174.74)">33836.05</text>
<path d="M986.5 172.34H988.5" stroke="#a4a4b8" stroke-width="1"/>
<text transform="matrix(0.94,0,0,1,990.00,200.88)">33725.80</text>
<path d="M986.5 198.48H988.5" stroke="#a4a4b8" stroke-width="1"/>
<text transform="matrix(0.94,0,0,1,990.00,227.02)">33613.30</text>
<path d="M986.5 224.62H988.5" stroke="#a4a4b8" stroke-width="1"/>
<text transform="matrix(0.94,0,0,1,990.00,253.16)">33500.80</text>
<path d="M986.5 250.76H988.5" stroke="#a4a4b8" stroke-width="1"/>
<text transform="matrix(0.94,0,0,1,990.00,279.30)">33390.55</text>
<path d="M986.5 276.90H988.5" stroke="#a4a4b8" stroke-width="1"/>
<text transform="matrix(0.94,0,0,1,990.00,305.44)">33278.05</text>
<path d="M986.5 303.04H988.5" stroke="#a4a4b8" stroke-width="1"/>
<text transform="matrix(0.94,0,0,1,990.00,331.58)">33167.80</text>
<path d="M986.5 329.18H988.5" stroke="#a4a4b8" stroke-width="1"/>
<text transform="matrix(0.94,0,0,1,990.00,357.72)">33055.30</text>
<path d="M986.5 355.32H988.5" stroke="#a4a4b8" stroke-width="1"/>
<text transform="matrix(0.94,0,0,1,990.00,383.86)">32945.05</text>
<path d="M986.5 381.46H988.5" stroke="#a4a4b8" stroke-width="1"/>
<rect x="987" y="46" width="34.5" height="7.6" fill="#ffffff"/>
<text transform="matrix(0.94,0,0,1,990.00,52.30)" style="fill:#10113a">34358.50</text>
<text transform="matrix(0.94,0,0,1,3.90,401.00)">RSI(14) 50.4518</text>
<text transform="matrix(0.94,0,0,1,989.00,400.00)">100</text>
<text transform="matrix(0.94,0,0,1,989.00,420.30)">70</text>
<text transform="matrix(0.94,0,0,1,989.00,451.90)">30</text>
<text transform="matrix(0.94,0,0,1,989.00,472.00)">0</text>
<text transform="matrix(0.94,0,0,1,3.90,483.00)">MACD(12,26,9) 44.572 58.507</text>
<text transform="matrix(0.94,0,0,1,988.40,482.00)">182.866</text>
<text transform="matrix(0.94,0,0,1,988.40,537.20)">0.00</text>
<text transform="matrix(0.94,0,0,1,988.40,562.20)">-89.067</text>
<text transform="matrix(0.94,0,0,1,1.00,572.20)">30 Dec 2022</text>
<text transform="matrix(0.94,0,0,1,52.50,572.20)">3 Jan 01:00</text>
<text transform="matrix(0.94,0,0,1,103.70,572.20)">3 Jan 13:00</text>
<text transform="matrix(0.94,0,0,1,154.90,572.20)">4 Jan 02:00</text>
<text transform="matrix(0.94,0,0,1,206.10,572.20)">4 Jan 14:00</text>
<text transform="matrix(0.94,0,0,1,257.30,572.20)">5 Jan 03:00</text>
<text transform="matrix(0.94,0,0,1,308.50,572.20)">5 Jan 15:00</text>
<text transform="matrix(0.94,0,0,1,359.70,572.20)">6 Jan 04:00</text>
<text transform="matrix(0.94,0,0,1,410.90,572.20)">6 Jan 16:00</text>
<text transform="matrix(0.94,0,0,1,462.10,572.20)">9 Jan 05:00</text>
<text transform="matrix(0.94,0,0,1,513.30,572.20)">9 Jan 17:00</text>
<text transform="matrix(0.94,0,0,1,564.50,572.20)">10 Jan 06:00</text>
<text transform="matrix(0.94,0,0,1,615.70,572.20)">10 Jan 18:00</text>
<text transform="matrix(0.94,0,0,1,666.90,572.20)">11 Jan 07:00</text>
<text transform="matrix(0.94,0,0,1,718.10,572.20)">11 Jan 19:00</text>
<text transform="matrix(0.94,0,0,1,769.30,572.20)">12 Jan 08:00</text>
<text transform="matrix(0.94,0,0,1,820.50,572.20)">12 Jan 20:00</text>
<text transform="matrix(0.94,0,0,1,871.70,572.20)">13 Jan 09:00</text>
<text transform="matrix(0.94,0,0,1,922.90,572.20)">13 Jan 21:00</text>
<text transform="matrix(0.94,0,0,1,974.10,572.20)">16 Jan 10:00</text>
<path d="M1.5 563.5v1.5M53.00 563.5v1.5M104.20 563.5v1.5M155.40 563.5v1.5M206.60 563.5v1.5M257.80 563.5v1.5M309.00 563.5v1.5M360.20 563.5v1.5M411.40 563.5v1.5M462.60 563.5v1.5M513.80 563.5v1.5M565.00 563.5v1.5M616.20 563.5v1.5M667.40 563.5v1.5M718.60 563.5v1.5M769.80 563.5v1.5M821.00 563.5v1.5M872.20 563.5v1.5M923.40 563.5v1.5M974.60 563.5v1.5" stroke="#a4a4b8" stroke-width="1"/>
</svg></body></html>
